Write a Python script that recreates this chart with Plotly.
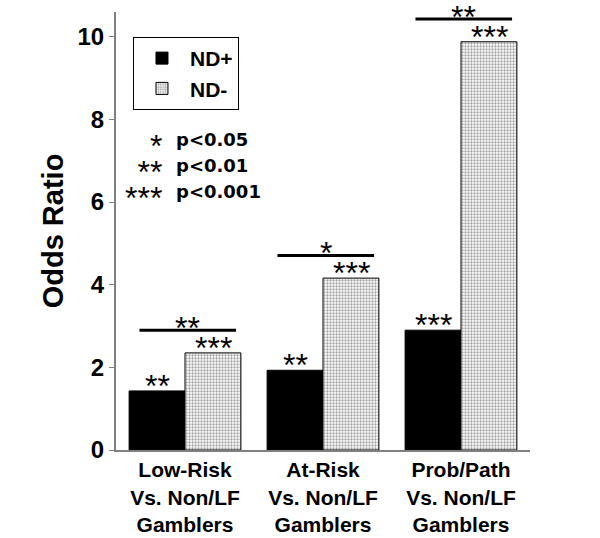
import plotly.graph_objects as go

categories = ["Low-Risk<br>Vs. Non/LF<br>Gamblers", "At-Risk<br>Vs. Non/LF<br>Gamblers", "Prob/Path<br>Vs. Non/LF<br>Gamblers"]
nd_plus = [1.43, 1.93, 2.9]
nd_minus = [2.35, 4.16, 9.88]
sig_plus = ["**", "**", "***"]
sig_minus = ["***", "***", "***"]
sig_between = ["**", "*", "**"]
note_stars = ["*", "**", "***"]
note_texts = ["p<0.05", "p<0.01", "p<0.001"]
y_ticks = [0, 2, 4, 6, 8, 10]

FONT = "Liberation Sans, Arial, sans-serif"
WIDE = "DejaVu Sans, Verdana, sans-serif"
STAR = dict(size=32, family=FONT, color="black")

fig = go.Figure()
fig.add_trace(go.Bar(x=categories, y=nd_plus, name="ND+",
                     marker=dict(color="black", line=dict(color="black", width=1))))
fig.add_trace(go.Bar(x=categories, y=nd_minus, name="ND-",
                     marker=dict(color="white", line=dict(color="black", width=1),
                                 pattern=dict(shape=".", size=3, solidity=0.45,
                                              fgcolor="#444444", bgcolor="white",
                                              fillmode="overlay"))))

ann = []
shapes = []
for i, c in enumerate(categories):
    ann.append(dict(x=i, y=nd_plus[i], xref="x", yref="y", text=sig_plus[i], showarrow=False,
                    yanchor="bottom", xshift=-28, yshift=-15, font=STAR))
    ann.append(dict(x=i, y=nd_minus[i], xref="x", yref="y", text=sig_minus[i], showarrow=False,
                    yanchor="bottom", xshift=28, yshift=-15, font=STAR))
    top = max(nd_plus[i], nd_minus[i]) + 0.55
    shapes.append(dict(type="line", xref="x", yref="y", x0=i - 0.33, x1=i + 0.37, y0=top, y1=top,
                       line=dict(color="black", width=3)))
    ann.append(dict(x=i + 0.02, y=top, xref="x", yref="y", text=sig_between[i], showarrow=False,
                    yanchor="bottom", yshift=-18, font=STAR))

# significance key: stars column (right aligned) and p-value column (left aligned)
star_col = "<br>".join("<span style='font-size:32px'>%s</span>" % s for s in note_stars)
text_col = "<br>".join("<span style='font-size:18px'>%s</span>" % t for t in note_texts)
ann.append(dict(x=0.117, y=6.88, xref="paper", yref="y", text=star_col, showarrow=False,
                xanchor="right", yanchor="middle", align="right", yshift=-6,
                font=dict(size=20, family=FONT, color="black")))
ann.append(dict(x=0.141, y=6.88, xref="paper", yref="y", text=text_col, showarrow=False,
                xanchor="left", yanchor="middle", align="left",
                font=dict(size=20, family=WIDE, color="black", weight="bold")))

fig.update_layout(
    width=600, height=538,
    margin=dict(l=116, r=70, t=12, b=88),
    plot_bgcolor="white", paper_bgcolor="white",
    barmode="group", bargap=0.19, bargroupgap=0,
    font=dict(family=FONT, color="black"),
    showlegend=True,
    legend=dict(x=0.041, y=0.943, xanchor="left", yanchor="top",
                bordercolor="black", borderwidth=1, bgcolor="white",
                font=dict(size=21, family=FONT, color="black", weight="bold"),
                itemwidth=46),
    annotations=ann, shapes=shapes,
    xaxis=dict(showline=True, linecolor="#808080", linewidth=2, ticks="", automargin=False,
               tickfont=dict(size=21, family=FONT, color="black", weight="bold"),
               range=[-0.5, 2.5]),
    yaxis=dict(range=[0, 10.6], tickvals=y_ticks, showgrid=False, zeroline=False, automargin=False,
               showline=True, linecolor="#808080", linewidth=2,
               ticks="outside", ticklen=5, tickcolor="#808080",
               tickfont=dict(size=24, family=FONT, color="black", weight="bold"),
               title=dict(text="Odds Ratio", standoff=5,
                          font=dict(size=29, family=FONT, color="black", weight="bold"))),
)

fig.write_html("out.html", config={"displayModeBar": False},
               post_script="document.body.style.margin='0';")
